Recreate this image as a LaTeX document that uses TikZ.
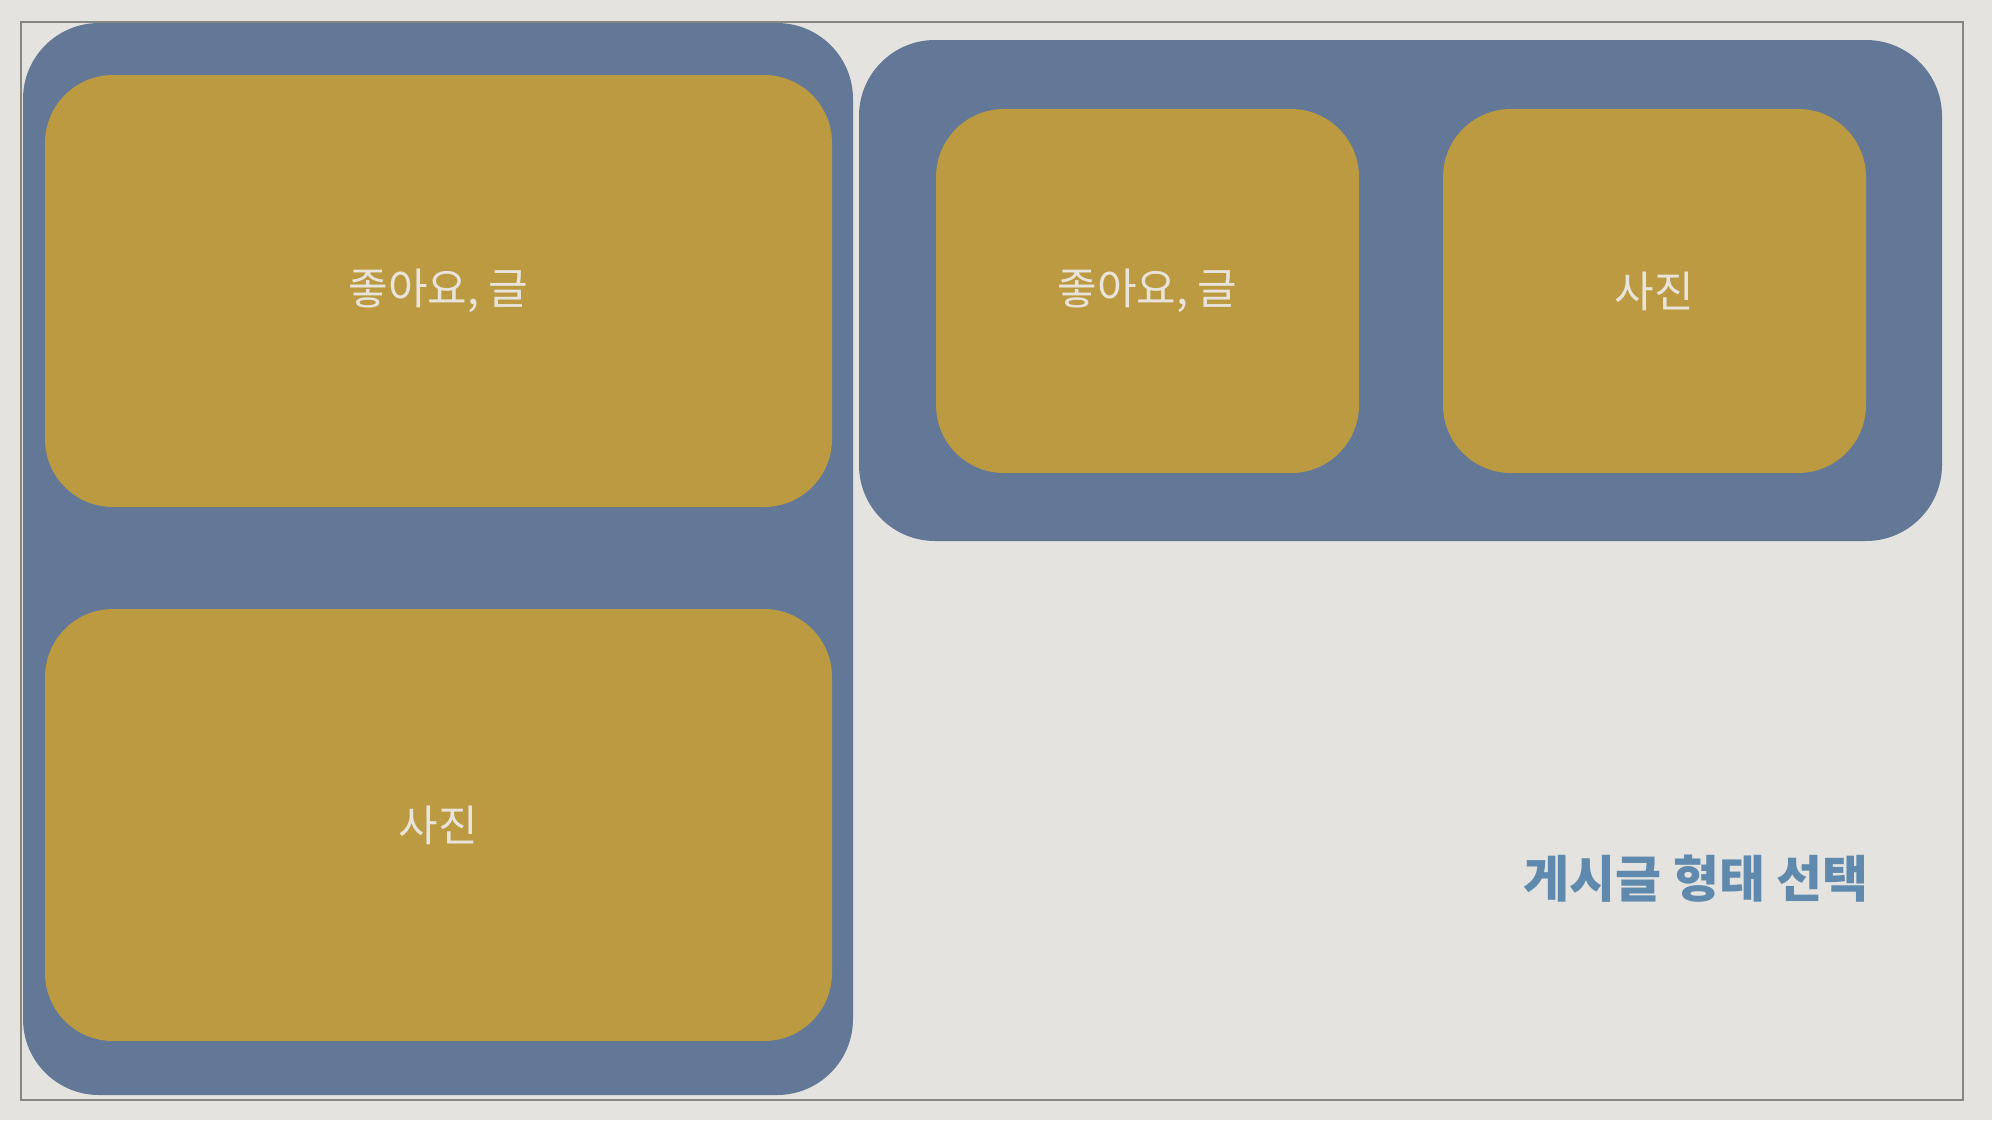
\documentclass[tikz,border=0pt]{standalone}
\usepackage{fontspec}
\setmainfont{Noto Sans CJK KR}
\usepackage{tikz}
\usetikzlibrary{positioning}
\definecolor{paper}{HTML}{E4E3DF}
\definecolor{slate}{HTML}{627896}
\definecolor{mustard}{HTML}{BB9A41}
\definecolor{cream}{HTML}{E8E4DC}
\definecolor{steel}{HTML}{5F8AAD}
\definecolor{rim}{HTML}{878782}

\begin{document}
\begin{tikzpicture}[x=0.5pt,y=-0.5pt,
  panel/.style={fill=slate, rounded corners=38pt, inner sep=0pt, outer sep=0pt},
  card/.style={fill=mustard, rounded corners=34pt, inner sep=0pt, outer sep=0pt,
               text=cream, font=\fontsize{21.5}{25}\selectfont}]
\fill[paper] (0,0) rectangle (1992,1120);
\draw[rim, line width=1pt] (21,21.5) rectangle (1963,1099.5);

\node (left)  [panel, minimum width=415pt,   minimum height=536pt]   at (438,559) {};
\node (right) [panel, minimum width=541.5pt, minimum height=250.5pt] at (1400.5,290.5) {};

\node (tl) [card, minimum width=393.5pt, minimum height=216pt] at (438.5,291) {좋아요, 글};
\node (bl) [card, minimum width=393.5pt, minimum height=216pt, below=51pt of tl] {사진};

\node (r1) [card, minimum width=211.5pt, minimum height=182pt] at (1147.5,291) {좋아요, 글};
\node (r2) [card, minimum width=211.5pt, minimum height=182pt, right=42pt of r1] {사진};

\node (title) [text=steel, font=\fontsize{25}{29}\selectfont\bfseries] at (1696,879) {게시글 형태 선택};
\end{tikzpicture}
\end{document}
